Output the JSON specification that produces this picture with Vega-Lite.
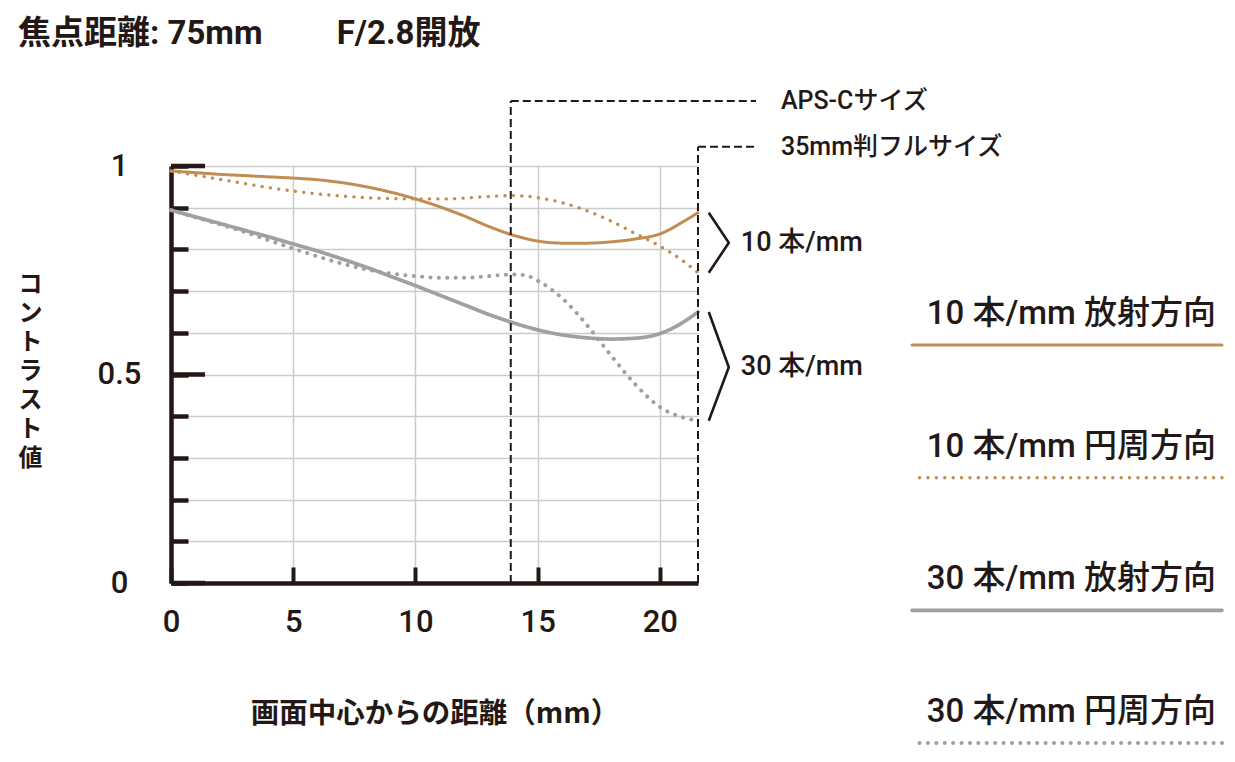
{
  "$schema": "https://vega.github.io/schema/vega-lite/v6.json",
  "background": "white",
  "padding": {"left": 18, "top": 17, "right": 5, "bottom": 5},
  "config": {"view": {"stroke": null}, "font": "Roboto, Noto Sans CJK JP"},
  "title": {
    "text": "焦点距離: 75mm　　 F/2.8開放",
    "anchor": "start",
    "frame": "bounds",
    "font": "Roboto, Noto Sans CJK JP",
    "fontSize": 33,
    "fontWeight": "bold",
    "color": "#231815",
    "offset": 38
  },
  "bounds": "flush",
  "spacing": 214,
  "datasets": {
    "mtf": [
      {"series": "10 本/mm 放射方向", "mm": 0, "contrast": 0.988},
      {"series": "10 本/mm 放射方向", "mm": 1, "contrast": 0.984},
      {"series": "10 本/mm 放射方向", "mm": 2, "contrast": 0.980},
      {"series": "10 本/mm 放射方向", "mm": 3, "contrast": 0.977},
      {"series": "10 本/mm 放射方向", "mm": 4, "contrast": 0.974},
      {"series": "10 本/mm 放射方向", "mm": 5, "contrast": 0.971},
      {"series": "10 本/mm 放射方向", "mm": 6, "contrast": 0.967},
      {"series": "10 本/mm 放射方向", "mm": 7, "contrast": 0.960},
      {"series": "10 本/mm 放射方向", "mm": 8, "contrast": 0.950},
      {"series": "10 本/mm 放射方向", "mm": 9, "contrast": 0.937},
      {"series": "10 本/mm 放射方向", "mm": 10, "contrast": 0.921},
      {"series": "10 本/mm 放射方向", "mm": 11, "contrast": 0.902},
      {"series": "10 本/mm 放射方向", "mm": 12, "contrast": 0.880},
      {"series": "10 本/mm 放射方向", "mm": 13, "contrast": 0.855},
      {"series": "10 本/mm 放射方向", "mm": 14, "contrast": 0.834},
      {"series": "10 本/mm 放射方向", "mm": 15, "contrast": 0.820},
      {"series": "10 本/mm 放射方向", "mm": 16, "contrast": 0.815},
      {"series": "10 本/mm 放射方向", "mm": 17, "contrast": 0.815},
      {"series": "10 本/mm 放射方向", "mm": 18, "contrast": 0.818},
      {"series": "10 本/mm 放射方向", "mm": 19, "contrast": 0.825},
      {"series": "10 本/mm 放射方向", "mm": 20, "contrast": 0.837},
      {"series": "10 本/mm 放射方向", "mm": 21, "contrast": 0.868},
      {"series": "10 本/mm 放射方向", "mm": 21.56, "contrast": 0.888},
      {"series": "10 本/mm 円周方向", "mm": 0, "contrast": 0.988},
      {"series": "10 本/mm 円周方向", "mm": 1, "contrast": 0.978},
      {"series": "10 本/mm 円周方向", "mm": 2, "contrast": 0.968},
      {"series": "10 本/mm 円周方向", "mm": 3, "contrast": 0.958},
      {"series": "10 本/mm 円周方向", "mm": 4, "contrast": 0.948},
      {"series": "10 本/mm 円周方向", "mm": 5, "contrast": 0.940},
      {"series": "10 本/mm 円周方向", "mm": 6, "contrast": 0.933},
      {"series": "10 本/mm 円周方向", "mm": 7, "contrast": 0.928},
      {"series": "10 本/mm 円周方向", "mm": 8, "contrast": 0.924},
      {"series": "10 本/mm 円周方向", "mm": 9, "contrast": 0.922},
      {"series": "10 本/mm 円周方向", "mm": 10, "contrast": 0.921},
      {"series": "10 本/mm 円周方向", "mm": 11, "contrast": 0.921},
      {"series": "10 本/mm 円周方向", "mm": 12, "contrast": 0.923},
      {"series": "10 本/mm 円周方向", "mm": 13, "contrast": 0.927},
      {"series": "10 本/mm 円周方向", "mm": 14, "contrast": 0.929},
      {"series": "10 本/mm 円周方向", "mm": 14.5, "contrast": 0.928},
      {"series": "10 本/mm 円周方向", "mm": 15, "contrast": 0.924},
      {"series": "10 本/mm 円周方向", "mm": 16, "contrast": 0.912},
      {"series": "10 本/mm 円周方向", "mm": 17, "contrast": 0.893},
      {"series": "10 本/mm 円周方向", "mm": 18, "contrast": 0.868},
      {"series": "10 本/mm 円周方向", "mm": 19, "contrast": 0.838},
      {"series": "10 本/mm 円周方向", "mm": 20, "contrast": 0.808},
      {"series": "10 本/mm 円周方向", "mm": 21, "contrast": 0.770},
      {"series": "10 本/mm 円周方向", "mm": 21.56, "contrast": 0.744},
      {"series": "30 本/mm 放射方向", "mm": 0, "contrast": 0.894},
      {"series": "30 本/mm 放射方向", "mm": 1, "contrast": 0.878},
      {"series": "30 本/mm 放射方向", "mm": 2, "contrast": 0.862},
      {"series": "30 本/mm 放射方向", "mm": 3, "contrast": 0.846},
      {"series": "30 本/mm 放射方向", "mm": 4, "contrast": 0.830},
      {"series": "30 本/mm 放射方向", "mm": 5, "contrast": 0.813},
      {"series": "30 本/mm 放射方向", "mm": 6, "contrast": 0.796},
      {"series": "30 本/mm 放射方向", "mm": 7, "contrast": 0.777},
      {"series": "30 本/mm 放射方向", "mm": 8, "contrast": 0.757},
      {"series": "30 本/mm 放射方向", "mm": 9, "contrast": 0.735},
      {"series": "30 本/mm 放射方向", "mm": 10, "contrast": 0.713},
      {"series": "30 本/mm 放射方向", "mm": 11, "contrast": 0.690},
      {"series": "30 本/mm 放射方向", "mm": 12, "contrast": 0.667},
      {"series": "30 本/mm 放射方向", "mm": 13, "contrast": 0.644},
      {"series": "30 本/mm 放射方向", "mm": 14, "contrast": 0.624},
      {"series": "30 本/mm 放射方向", "mm": 15, "contrast": 0.607},
      {"series": "30 本/mm 放射方向", "mm": 16, "contrast": 0.595},
      {"series": "30 本/mm 放射方向", "mm": 17, "contrast": 0.588},
      {"series": "30 本/mm 放射方向", "mm": 18, "contrast": 0.585},
      {"series": "30 本/mm 放射方向", "mm": 19, "contrast": 0.587},
      {"series": "30 本/mm 放射方向", "mm": 20, "contrast": 0.598},
      {"series": "30 本/mm 放射方向", "mm": 21, "contrast": 0.627},
      {"series": "30 本/mm 放射方向", "mm": 21.56, "contrast": 0.650},
      {"series": "30 本/mm 円周方向", "mm": 0, "contrast": 0.894},
      {"series": "30 本/mm 円周方向", "mm": 1, "contrast": 0.877},
      {"series": "30 本/mm 円周方向", "mm": 2, "contrast": 0.860},
      {"series": "30 本/mm 円周方向", "mm": 3, "contrast": 0.842},
      {"series": "30 本/mm 円周方向", "mm": 4, "contrast": 0.822},
      {"series": "30 本/mm 円周方向", "mm": 5, "contrast": 0.802},
      {"series": "30 本/mm 円周方向", "mm": 6, "contrast": 0.783},
      {"series": "30 本/mm 円周方向", "mm": 7, "contrast": 0.766},
      {"series": "30 本/mm 円周方向", "mm": 8, "contrast": 0.752},
      {"series": "30 本/mm 円周方向", "mm": 9, "contrast": 0.742},
      {"series": "30 本/mm 円周方向", "mm": 10, "contrast": 0.736},
      {"series": "30 本/mm 円周方向", "mm": 11, "contrast": 0.732},
      {"series": "30 本/mm 円周方向", "mm": 12, "contrast": 0.732},
      {"series": "30 本/mm 円周方向", "mm": 13, "contrast": 0.736},
      {"series": "30 本/mm 円周方向", "mm": 14, "contrast": 0.740},
      {"series": "30 本/mm 円周方向", "mm": 14.5, "contrast": 0.738},
      {"series": "30 本/mm 円周方向", "mm": 15, "contrast": 0.725},
      {"series": "30 本/mm 円周方向", "mm": 16, "contrast": 0.683},
      {"series": "30 本/mm 円周方向", "mm": 17, "contrast": 0.620},
      {"series": "30 本/mm 円周方向", "mm": 17.5, "contrast": 0.583},
      {"series": "30 本/mm 円周方向", "mm": 18, "contrast": 0.546},
      {"series": "30 本/mm 円周方向", "mm": 19, "contrast": 0.476},
      {"series": "30 本/mm 円周方向", "mm": 20, "contrast": 0.422},
      {"series": "30 本/mm 円周方向", "mm": 21, "contrast": 0.396},
      {"series": "30 本/mm 円周方向", "mm": 21.56, "contrast": 0.389}
    ],
    "majorTicks": [
      {"contrast": 0, "axisAt": 0},
      {"contrast": 0.5, "axisAt": 0},
      {"contrast": 1, "axisAt": 0}
    ],
    "frames": [
      {"frame": "APS-Cサイズ", "edge": 13.9, "base": 0, "level": 1.156, "lineEnd": 23.93},
      {"frame": "35mm判フルサイズ", "edge": 21.56, "base": 0, "level": 1.046, "lineEnd": 23.93}
    ],
    "brackets": [
      {"band": "10 本/mm", "step": 1, "mm": 22.0, "contrast": 0.888},
      {"band": "10 本/mm", "step": 2, "mm": 22.82, "contrast": 0.816},
      {"band": "10 本/mm", "step": 3, "mm": 22.0, "contrast": 0.744},
      {"band": "30 本/mm", "step": 1, "mm": 22.0, "contrast": 0.650},
      {"band": "30 本/mm", "step": 2, "mm": 22.82, "contrast": 0.5175},
      {"band": "30 本/mm", "step": 3, "mm": 22.0, "contrast": 0.389}
    ],
    "series": [
      {"series": "10 本/mm 放射方向"},
      {"series": "10 本/mm 円周方向"},
      {"series": "30 本/mm 放射方向"},
      {"series": "30 本/mm 円周方向"}
    ]
  },
  "hconcat": [
    {
      "width": 527,
      "height": 417,
      "layer": [
        {
          "data": {"name": "mtf"},
          "mark": {"type": "line", "interpolate": "monotone", "strokeCap": "round", "clip": false},
          "encoding": {
            "x": {
              "field": "mm", "type": "quantitative",
              "scale": {"domain": [0, 21.56], "nice": false, "zero": false},
              "axis": {
                "values": [0, 5, 10, 15, 20],
                "format": "d",
                "tickSize": -16,
                "tickWidth": 4,
                "tickColor": "#231815",
                "domainColor": "#231815",
                "domainWidth": 4.5,
                "grid": true,
                "gridColor": "#CBCBCB",
                "gridWidth": 1.5,
                "labelFont": "Roboto",
                "labelFontSize": 31,
                "labelFontWeight": 500,
                "labelColor": "#231815",
                "labelBaseline": "middle",
                "labelPadding": 55,
                "labelFlush": false,
                "labelOverlap": false,
                "title": "画面中心からの距離（mm）",
                "titleFont": "Noto Sans CJK JP",
                "titleFontSize": 28.5,
                "titleFontWeight": "bold",
                "titleColor": "#231815",
                "titleX": 263.5,
                "titleY": 130,
                "titleAlign": "center",
                "titleBaseline": "middle"
              }
            },
            "y": {
              "field": "contrast", "type": "quantitative",
              "scale": {"domain": [0, 1], "nice": false, "zero": false},
              "axis": {
                "values": [0, 0.1, 0.2, 0.3, 0.4, 0.5, 0.6, 0.7, 0.8, 0.9, 1],
                "format": "~g",
                "labelExpr": "datum.value == 0 || datum.value == 0.5 || datum.value == 1 ? datum.label : ''",
                "tickSize": -17,
                "tickWidth": 4.5,
                "tickColor": "#231815",
                "domainColor": "#231815",
                "domainWidth": 4.5,
                "grid": true,
                "gridColor": "#CBCBCB",
                "gridWidth": 1.5,
                "labelFont": "Roboto",
                "labelFontSize": 31,
                "labelFontWeight": 500,
                "labelColor": "#231815",
                "labelAlign": "center",
                "labelBaseline": "middle",
                "labelPadding": 69,
                "labelFlush": false,
                "labelOverlap": false,
                "title": ["コ", "ン", "ト", "ラ", "ス", "ト", "値"],
                "titleFont": "Noto Sans CJK JP",
                "titleFontSize": 24,
                "titleFontWeight": "bold",
                "titleColor": "#231815",
                "titleLineHeight": 29,
                "titleAngle": 0,
                "titleX": -141,
                "titleY": 118,
                "titleAlign": "center",
                "titleBaseline": "middle"
              }
            },
            "color": {
              "field": "series", "type": "nominal", "legend": null,
              "scale": {
                "domain": ["10 本/mm 放射方向", "10 本/mm 円周方向", "30 本/mm 放射方向", "30 本/mm 円周方向"],
                "range": ["#C28D52", "#C28D52", "#9FA0A0", "#9FA0A0"]
              }
            },
            "strokeDash": {
              "field": "series", "type": "nominal", "legend": null,
              "scale": {
                "domain": ["10 本/mm 放射方向", "10 本/mm 円周方向", "30 本/mm 放射方向", "30 本/mm 円周方向"],
                "range": [[1, 0], [0.1, 8.3], [1, 0], [0.1, 8.3]]
              }
            },
            "strokeWidth": {
              "field": "series", "type": "nominal", "legend": null,
              "scale": {
                "domain": ["10 本/mm 放射方向", "10 本/mm 円周方向", "30 本/mm 放射方向", "30 本/mm 円周方向"],
                "range": [3, 4, 3, 4]
              }
            }
          }
        },
        {
          "data": {"name": "majorTicks"},
          "mark": {"type": "tick", "orient": "horizontal", "size": 34, "thickness": 4.5, "xOffset": 17, "color": "#231815", "opacity": 1, "clip": false},
          "encoding": {
            "x": {"field": "axisAt", "type": "quantitative"},
            "y": {"field": "contrast", "type": "quantitative"}
          }
        },
        {
          "data": {"name": "frames"},
          "mark": {"type": "rule", "strokeDash": [8, 4], "strokeWidth": 2, "color": "#231815", "clip": false},
          "encoding": {
            "x": {"field": "edge", "type": "quantitative"},
            "y": {"field": "base", "type": "quantitative"},
            "y2": {"field": "level", "type": "quantitative"}
          }
        },
        {
          "data": {"name": "frames"},
          "mark": {"type": "rule", "strokeDash": [8, 4], "strokeWidth": 2, "color": "#231815", "clip": false},
          "encoding": {
            "x": {"field": "edge", "type": "quantitative"},
            "x2": {"field": "lineEnd", "type": "quantitative"},
            "y": {"field": "level", "type": "quantitative"}
          }
        },
        {
          "data": {"name": "frames"},
          "mark": {"type": "text", "align": "left", "baseline": "middle", "dx": 25, "fontSize": 25, "fontWeight": 500, "color": "#231815", "font": "Roboto, Noto Sans CJK JP", "clip": false},
          "encoding": {
            "x": {"field": "lineEnd", "type": "quantitative"},
            "y": {"field": "level", "type": "quantitative"},
            "text": {"field": "frame", "type": "nominal"}
          }
        },
        {
          "data": {"name": "brackets"},
          "mark": {"type": "line", "color": "#231815", "strokeWidth": 2.6, "clip": false},
          "encoding": {
            "x": {"field": "mm", "type": "quantitative"},
            "y": {"field": "contrast", "type": "quantitative"},
            "detail": {"field": "band", "type": "nominal"},
            "order": {"field": "step", "type": "quantitative"}
          }
        },
        {
          "data": {"name": "brackets"},
          "transform": [{"filter": "datum.step == 2"}],
          "mark": {"type": "text", "align": "left", "baseline": "middle", "dx": 12, "fontSize": 27, "fontWeight": 500, "color": "#231815", "font": "Roboto, Noto Sans CJK JP", "clip": false},
          "encoding": {
            "x": {"field": "mm", "type": "quantitative"},
            "y": {"field": "contrast", "type": "quantitative"},
            "text": {"field": "band", "type": "nominal"}
          }
        }
      ]
    },
    {
      "width": 310,
      "height": 577,
      "data": {"name": "series"},
      "layer": [
        {
          "mark": {"type": "rule", "strokeCap": "round"},
          "encoding": {
            "y": {
              "field": "series", "type": "nominal", "axis": null,
              "scale": {"type": "point", "domain": ["10 本/mm 放射方向", "10 本/mm 円周方向", "30 本/mm 放射方向", "30 本/mm 円周方向"], "padding": 0.675, "align": 1}
            },
            "color": {
              "field": "series", "type": "nominal", "legend": null,
              "scale": {
                "domain": ["10 本/mm 放射方向", "10 本/mm 円周方向", "30 本/mm 放射方向", "30 本/mm 円周方向"],
                "range": ["#C28D52", "#C28D52", "#9FA0A0", "#9FA0A0"]
              }
            },
            "strokeDash": {
              "field": "series", "type": "nominal", "legend": null,
              "scale": {
                "domain": ["10 本/mm 放射方向", "10 本/mm 円周方向", "30 本/mm 放射方向", "30 本/mm 円周方向"],
                "range": [[1, 0], [0.1, 7.2], [1, 0], [0.1, 6.3]]
              }
            },
            "strokeWidth": {
              "field": "series", "type": "nominal", "legend": null,
              "scale": {
                "domain": ["10 本/mm 放射方向", "10 本/mm 円周方向", "30 本/mm 放射方向", "30 本/mm 円周方向"],
                "range": [3.4, 4, 3.4, 3.8]
              }
            }
          }
        },
        {
          "mark": {"type": "text", "align": "right", "baseline": "middle", "dy": -31, "dx": -6, "fontSize": 33, "fontWeight": 500, "color": "#231815", "font": "Roboto, Noto Sans CJK JP"},
          "encoding": {
            "y": {
              "field": "series", "type": "nominal", "axis": null,
              "scale": {"type": "point", "domain": ["10 本/mm 放射方向", "10 本/mm 円周方向", "30 本/mm 放射方向", "30 本/mm 円周方向"], "padding": 0.675, "align": 1}
            },
            "x": {"datum": 1, "type": "quantitative", "scale": {"domain": [0, 1]}, "axis": null},
            "text": {"field": "series", "type": "nominal"}
          }
        }
      ]
    }
  ]
}
